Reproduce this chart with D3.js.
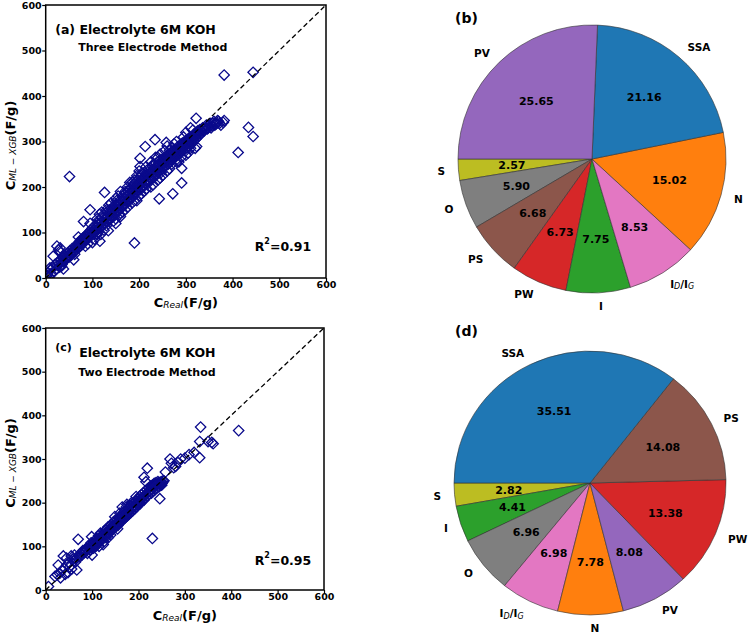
<!DOCTYPE html>
<html><head><meta charset="utf-8">
<script src="https://cdn.jsdelivr.net/npm/d3@7"></script>
<style>body{margin:0;background:#fff} text{font-family:"DejaVu Sans",sans-serif}</style>
</head><body><svg id="chart" width="749" height="637"></svg>
<script>
const axisTicks = [0,100,200,300,400,500,600];

const scatterA = [
[3,5],[5,12],[8,3],[10,18],[12,10],[15,22],[18,14],[20,30],[22,19],[25,28],[27,35],[30,24],[32,40],[35,30],[36,45],[38,20],[40,38],[42,50],[45,42],[47,55],[50,46],[52,60],[55,50],[57,65],[60,58],[62,52],[64,68],[66,62],[68,75],[70,66],[72,80],[74,70],[76,85],[78,74],[80,88],[82,78],[84,92],[86,84],[88,96],[90,86],[92,100],[94,90],[96,105],[98,94],[100,110],[100,78],[104,98],[106,116],[108,104],[110,120],[112,100],[114,128],[116,110],[118,96],[120,132],[122,116],[124,140],[126,120],[128,136],[130,124],[132,146],[134,128],[136,150],[138,132],[140,144],[142,138],[144,156],[146,136],[148,160],[150,146],[152,170],[154,150],[156,164],[158,140],[160,172],[162,156],[164,180],[166,160],[168,176],[170,166],[172,186],[174,170],[176,192],[178,174],[180,196],[182,176],[184,200],[186,180],[188,206],[190,186],[192,210],[194,188],[196,214],[198,194],[200,220],[200,180],[202,198],[204,226],[206,200],[208,218],[210,204],[212,232],[214,208],[216,226],[218,212],[220,240],[222,214],[224,230],[226,218],[228,246],[230,222],[232,240],[234,226],[236,252],[238,230],[240,246],[242,232],[244,258],[246,238],[248,254],[250,240],[252,264],[254,246],[256,262],[258,248],[260,270],[262,250],[264,266],[266,254],[268,276],[270,260],[272,272],[274,262],[276,282],[278,266],[280,278],[282,270],[284,290],[286,274],[288,284],[290,276],[292,296],[294,280],[296,290],[298,284],[300,302],[302,286],[304,296],[306,290],[308,306],[310,294],[312,300],[314,296],[316,312],[318,302],[320,316],[322,306],[325,320],[328,312],[330,326],[333,318],[336,330],[340,324],[344,336],[348,330],[352,340],[356,334],[360,344],[364,338],[368,346],[372,340],
[60,40],[70,90],[85,70],[95,120],[105,85],[115,140],[125,105],[135,160],[145,125],[155,180],[165,145],[175,200],[185,165],[195,225],[205,185],[215,245],[225,200],[235,265],[245,220],[255,280],[265,240],[275,295],[285,255],[295,310],[305,275],[315,325],[320,285],[245,272],[260,290],[230,205],[210,190],[190,170],[170,150],[150,130],[130,115],[110,95],[90,75],[280,300],[270,285],[300,320],[310,330],[200,235],[180,210],[160,190],[140,165],[120,145],
[101,96],[103,104],[107,110],[109,98],[111,112],[113,118],[117,122],[119,114],[121,124],[123,118],[127,128],[129,132],[131,122],[133,136],[135,140],[137,128],[139,142],[141,150],[143,134],[145,148],[147,152],[149,140],[151,158],[153,146],[155,156],[157,162],[159,150],[161,164],[163,168],[165,158],[167,170],[169,174],[171,162],[173,178],[175,182],[177,168],[179,186],[181,184],[183,190],[185,176],[187,194],[189,198],[191,184],[193,200],[195,196],[197,204],[199,210],[201,206],[203,194],[205,212],[207,216],[209,202],[211,220],[213,214],[215,222],[217,206],[219,226],[221,230],[223,220],[225,234],[227,228],[229,236],[231,220],[233,238],[235,244],[237,236],[239,242],[241,250],[243,240],[245,248],[247,232],[249,256],[251,250],[253,256],[255,244],[257,258],[259,264],[261,256],[263,262],[265,270],[267,262],[269,268],[271,276],[273,266],[275,274],[277,270],[279,282],[281,276],[283,280],[285,286],[287,278],[289,290],[291,284],[293,290],[295,298],[297,292],[299,296],[301,294],[303,304],[305,300],[307,298],[309,310],[311,302],[313,308],[315,304],[317,316],[319,310],[321,312],[324,314],[326,324],[329,320],[331,316],[334,324],[338,328],[342,330],[346,328],[350,336],[354,330],[358,340],[362,336],[366,340],[370,344],[375,336],[380,342],
[33,34],[37,36],[41,44],[44,46],[48,50],[53,54],[56,58],[59,62],[63,60],[65,70],[69,70],[73,76],[75,78],[77,80],[79,84],[81,82],[83,88],[87,90],[89,92],[91,94],[93,96],[97,100],[99,102],
[150,120],[160,135],[175,155],[185,210],[195,170],[215,195],[225,255],[240,215],[250,225],[260,235],[270,250],[280,260],[290,265],[300,280],[230,250],[240,265],[205,230],[190,215],[170,190],[150,175],[130,150],[110,130],[255,265],[265,280],[215,230],[225,240],[245,260],[280,255],[300,270],[310,285],
[382,446],[444,452],[434,331],[444,311],[412,276],[382,346],[322,351],[51,223],[190,77],[291,209],[272,185],[243,174],[234,304],[213,289],[126,188],[95,150],[81,124],[116,81],[134,104],[323,289],[258,298],[202,263],[291,241],[202,245],[24,70],[31,66],[28,62],[30,58],[16,48],[34,26],[2,7],[9,22]
];

const scatterC = [
[6,8],[20,31],[25,35],[27,57],[30,38],[32,28],[35,45],[38,78],[40,50],[42,36],[45,73],[46,58],[48,40],[50,62],[52,53],[55,78],[56,48],[58,70],[60,66],[62,80],[65,72],[67,46],[70,116],[72,78],[75,84],[78,80],[80,90],[82,86],[85,92],[88,96],[90,84],[92,100],[95,92],[98,108],[99,122],[100,80],[102,106],[105,112],[108,100],[110,118],[112,108],[114,124],[116,112],[118,130],[120,116],[122,126],[124,104],[126,134],[128,122],[130,138],[132,126],[134,144],[136,130],[138,146],[140,134],[142,150],[144,140],[146,156],[148,142],[149,168],[150,150],[152,146],[154,160],[156,148],[158,166],[160,154],[162,170],[164,158],[166,176],[168,162],[170,180],[172,166],[174,190],[176,170],[178,186],[180,174],[182,194],[184,178],[186,196],[188,182],[190,200],[192,186],[194,204],[196,190],[198,208],[200,196],[202,214],[204,198],[206,218],[208,204],[210,222],[212,206],[212,258],[214,226],[216,248],[216,212],[218,230],[219,279],[220,216],[222,234],[224,220],[226,238],[228,222],[230,118],[230,240],[232,226],[234,244],[236,230],[238,246],[240,234],[242,248],[244,236],[246,209],[248,244],[250,240],[252,246],[255,250],[258,270],[268,300],[271,290],[276,280],[280,283],[285,292],[291,300],[300,302],[309,310],[320,315],[332,303],[332,340],[334,373],[350,340],[358,338],[361,335],[416,365],
[140,126],[150,160],[160,164],[170,170],[180,190],[190,192],[200,210],[130,120],[120,124],[110,104],[100,104],[165,190],[175,196],[185,200],[195,214],[160,176],[170,176],[105,98],[115,100],[125,110],[135,120],[145,138],[155,140],
[101,100],[103,96],[107,104],[109,112],[111,114],[113,106],[117,118],[119,122],[121,114],[123,120],[127,126],[129,130],[131,132],[133,128],[137,136],[139,140],[141,138],[143,146],[147,146],[151,152],[153,150],[157,154],[159,160],[161,158],[163,164],[167,168],[169,170],[171,172],[173,170],[177,178],[179,180],[181,180],[183,186],[187,188],[189,190],[191,194],[193,192],[197,198],[199,202],[201,200],[203,206],[207,208],[209,212],[211,214],[213,216],[217,220],[221,224],[223,226],[225,228],[227,232],[229,230],[231,236],[233,234],[235,238],[237,240],[239,240],[241,242],[243,244],[245,246],[247,240],[249,248],[251,244],[253,250],[60,72],[64,64],[68,74],[74,76],[84,86],[86,90],[94,96],[96,100]
];

const pieBLabels = ["S","O","PS","PW","I","ID/IG","N","SSA","PV"];
const pieBValues = [2.57,5.90,6.68,6.73,7.75,8.53,15.02,21.16,25.65];
const pieDLabels = ["S","I","O","ID/IG","N","PV","PW","PS","SSA"];
const pieDValues = [2.82,4.41,6.96,6.98,7.78,8.08,13.38,14.08,35.51];
const featureNames = ["SSA","N","I","PW","PV","PS","ID/IG","O","S"];
const featureColors = ["#1f77b4","#ff7f0e","#2ca02c","#d62728","#9467bd","#8c564b","#e377c2","#7f7f7f","#bcbd22"];

const svg = d3.select("#chart");
const color = d3.scaleOrdinal(featureNames, featureColors);

function scatterPanel(id, box, data, tag, title, sub, titleY, subY, r2, r2Y, xlabY) {
  const x = d3.scaleLinear([0,600],[box.x0,box.x1]);
  const y = d3.scaleLinear([0,600],[box.y1,box.y0]);
  const g = svg.append("g");
  g.append("clipPath").attr("id",id).append("rect")
    .attr("x",box.x0).attr("y",box.y0).attr("width",box.x1-box.x0).attr("height",box.y1-box.y0);
  const sym = d3.symbol(d3.symbolSquare, 54);
  g.append("g").attr("clip-path",`url(#${id})`).selectAll("path").data(data).join("path")
    .attr("d", sym)
    .attr("transform", d=>`translate(${x(d[0])},${y(d[1])}) rotate(45)`)
    .attr("fill","none").attr("stroke","#0a0a8c").attr("stroke-width",1.3);
  g.append("line").attr("x1",x(0)).attr("y1",y(0)).attr("x2",x(600)).attr("y2",y(600))
    .attr("stroke","#000").attr("stroke-width",1.3).attr("stroke-dasharray","5,3");
  const ax = g.append("g").attr("transform",`translate(0,${box.y1})`)
    .call(d3.axisBottom(x).tickValues(axisTicks).tickSize(3.5).tickPadding(0));
  const ay = g.append("g").attr("transform",`translate(${box.x0},0)`)
    .call(d3.axisLeft(y).tickValues(axisTicks).tickSize(3.5).tickPadding(0.5));
  [ax,ay].forEach(a=>{
    a.select(".domain").remove();
    a.selectAll("text").attr("font-family","DejaVu Sans").attr("font-weight","bold").attr("font-size",9.5).attr("fill","#000");
    a.selectAll("line").attr("stroke","#000").attr("stroke-width",1.2);
  });
  g.append("rect").attr("x",box.x0).attr("y",box.y0).attr("width",box.x1-box.x0).attr("height",box.y1-box.y0)
    .attr("fill","none").attr("stroke","#000").attr("stroke-width",1.5);
  if (tag) {
    g.append("text").attr("x",box.x0+9.5).attr("y",titleY-1).attr("font-weight","bold").attr("font-size",11).text(tag);
  }
  g.append("text").attr("x",tag?box.x0+33.5:box.x0+9.5).attr("y",titleY).attr("dominant-baseline","central")
    .attr("font-weight","bold").attr("font-size",12.5).text(title);
  g.append("text").attr("x",box.x0+32.5).attr("y",subY).attr("dominant-baseline","central")
    .attr("font-weight","bold").attr("font-size",11).text(sub);
  const rt = g.append("text").attr("x",box.x0+209).attr("y",r2Y).attr("dominant-baseline","central")
    .attr("font-weight","bold").attr("font-size",12.5);
  rt.append("tspan").text("R");
  rt.append("tspan").attr("font-size",8).attr("dy",-5).text("2");
  rt.append("tspan").attr("dy",5).text("=" + r2);
  const cxm = (box.x0+box.x1)/2, cym = (box.y0+box.y1)/2;
  const xl = g.append("text").attr("x",cxm).attr("y",xlabY).attr("text-anchor","middle").attr("dominant-baseline","central")
    .attr("font-weight","bold").attr("font-size",13);
  xl.append("tspan").text("C");
  xl.append("tspan").attr("font-size",9).attr("font-style","italic").attr("font-weight","normal").attr("dy",3).text("Real");
  xl.append("tspan").attr("dy",-3).text("(F/g)");
  const yl = g.append("text").attr("transform",`translate(10,${cym+4}) rotate(-90)`).attr("text-anchor","middle").attr("dominant-baseline","central")
    .attr("font-weight","bold").attr("font-size",13);
  yl.append("tspan").text("C");
  yl.append("tspan").attr("font-size",9).attr("font-style","italic").attr("font-weight","normal").attr("dy",3).text("ML \u2212 XGB");
  yl.append("tspan").attr("dy",-3).text("(F/g)");
}

scatterPanel("clipA",{x0:45.7,x1:326,y0:5,y1:278},scatterA,"","(a) Electrolyte 6M KOH","Three Electrode Method",29,47,"0.91",245.5,302);
scatterPanel("clipC",{x0:45.7,x1:324,y0:328,y1:590},scatterC,"(c)","Electrolyte 6M KOH","Two Electrode Method",352,372,"0.95",560,615);

function piePanel(cx, cy, R, sy, labels, values, tag, tagY) {
  const data = labels.map((l,i)=>({label:l, v:values[i]}));
  const arcs = d3.pie().sort(null).value(d=>d.v).startAngle(1.5*Math.PI).endAngle(-0.5*Math.PI)(data);
  const g = svg.append("g").attr("transform",`translate(${cx},${cy})`);
  const arc = d3.arc().innerRadius(0).outerRadius(R);
  g.append("g").attr("transform",`scale(1,${sy})`).selectAll("path").data(arcs).join("path").attr("d",arc)
    .attr("fill",d=>color(d.data.label)).attr("stroke","#333").attr("stroke-width",0.6).attr("vector-effect","non-scaling-stroke");
  const pct = d3.arc().innerRadius(R*0.6).outerRadius(R*0.6);
  g.selectAll("text.pct").data(arcs).join("text").attr("class","pct")
    .attr("x",d=>pct.centroid(d)[0]).attr("y",d=>pct.centroid(d)[1]*sy)
    .attr("text-anchor","middle").attr("dominant-baseline","central")
    .attr("font-weight","bold").attr("font-size",11).text(d=>d.data.v.toFixed(2));
  const lab = d3.arc().innerRadius(R*1.1).outerRadius(R*1.1);
  g.selectAll("text.lab").data(arcs).join("text").attr("class","lab")
    .attr("x",d=>lab.centroid(d)[0]).attr("y",d=>lab.centroid(d)[1]*sy)
    .attr("text-anchor",d=>lab.centroid(d)[0]>0?"start":"end").attr("dominant-baseline","central")
    .attr("font-weight","bold").attr("font-size",10.5)
    .each(function(d){
      const t = d3.select(this);
      if (d.data.label==="ID/IG") {
        t.append("tspan").text("I");
        t.append("tspan").attr("font-size",8).attr("font-style","italic").attr("font-weight","normal").attr("dy",2.5).text("D");
        t.append("tspan").attr("dy",-2.5).text("/I");
        t.append("tspan").attr("font-size",8).attr("font-style","italic").attr("font-weight","normal").attr("dy",2.5).text("G");
      } else t.text(d.data.label);
    });
  svg.append("text").attr("x",455).attr("y",tagY).attr("font-weight","bold").attr("font-size",14).text(tag);
}

piePanel(592,159,134,1,pieBLabels,pieBValues,"(b)",23);
piePanel(590,483,136,0.97,pieDLabels,pieDValues,"(d)",336);
</script></body></html>
